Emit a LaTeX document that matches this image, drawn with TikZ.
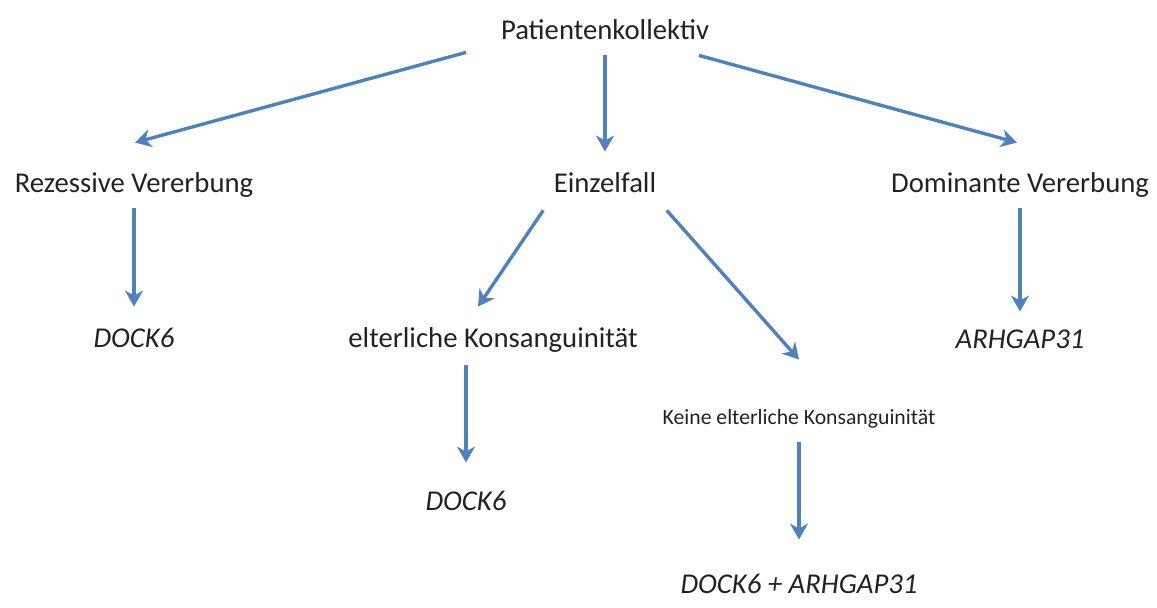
\documentclass[tikz,border=0pt]{standalone}
\usepackage{fontspec}
\setmainfont{Carlito}
\usetikzlibrary{arrows.meta}
\definecolor{arrowblue}{HTML}{4F81BD}
\definecolor{textdark}{HTML}{222222}
\tikzset{
  lbl/.style={inner sep=0pt, anchor=base, text=textdark, font=\fontsize{14.35pt}{17pt}\selectfont, text height=10.8pt, text depth=3.6pt},
  lbls/.style={lbl, font=\fontsize{10.85pt}{13pt}\selectfont, text height=8.1pt, text depth=2.7pt},
  gene/.style={lbl, font=\fontsize{14.35pt}{17pt}\selectfont\itshape},
  ar/.style={-{Stealth[length=8pt,width=9pt,inset=2.5pt]}, line width=1.7pt, draw=arrowblue},
}
\begin{document}
\begin{tikzpicture}[x=0.5pt, y=-0.5pt]
    \useasboundingbox (0,0) rectangle (1157,608);
    \node[lbl] (pk) at (605,40) {Patientenkollektiv};
    \node[lbl] (rez) at (134,193) {Rezessive Vererbung};
    \node[lbl] (einz) at (605,193) {Einzelfall};
    \node[lbl] (dom) at (1020,193) {Dominante Vererbung};
    \node[gene] (dockl) at (134,348) {DOCK6};
    \node[lbl, anchor=base west] (elt) at (348,348) {elterliche Konsanguinität};
    \node[gene] (arh) at (1020,349) {ARHGAP31};
    \node[lbls] (keine) at (799,425) {Keine elterliche Konsanguinität};
    \node[gene] (dockm) at (466,511) {DOCK6};
    \node[gene] (both) at (799,594) {DOCK6 + ARHGAP31};
    \draw[ar] ([xshift=-17.25pt,yshift=-2.4pt]pk.south west) -- ([xshift=0.5pt,yshift=14.2pt]rez.north);
    \draw[ar, shorten <=3.9pt, shorten >=9.7pt] (pk.south) -- (einz.north);
    \draw[ar] ([xshift=-5.25pt,yshift=-3.9pt]pk.south east) -- ([xshift=-1.5pt,yshift=14.2pt]dom.north);
    \draw[ar, shorten <=3.9pt, shorten >=9.7pt] (rez.south) -- (dockl.north);
    \draw[ar] ([xshift=-5.1pt,yshift=-4.9pt]einz.south west) -- ([xshift=65pt,yshift=9.7pt]elt.north west);
    \draw[ar] ([xshift=5.1pt,yshift=-4.9pt]einz.south east) -- ([yshift=24.4pt]keine.north);
    \draw[ar, shorten <=3.9pt, shorten >=7.7pt] (dom.south) -- (arh.north);
    \draw[ar, shorten <=4.9pt, shorten >=13.2pt] (dockm |- elt.south) -- (dockm.north);
    \draw[ar, shorten <=5.8pt, shorten >=16.2pt] (keine.south) -- (both.north);
  \end{tikzpicture}
\end{document}
